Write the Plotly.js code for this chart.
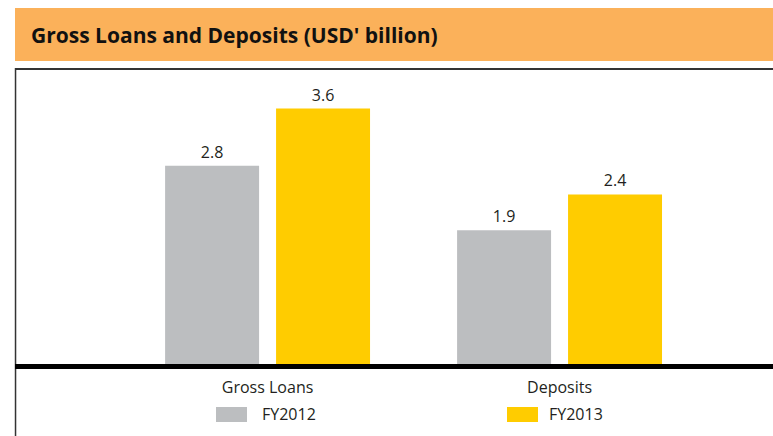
<!DOCTYPE html>
<html>
<head>
<meta charset="utf-8">
<script src="https://cdn.plot.ly/plotly-3.0.1.min.js"></script>
<style>html,body{margin:0;padding:0;background:#fff;}#chart{width:773px;height:436px;}</style>
</head>
<body>
<div id="chart"></div>
<script>
const categories = ["Gross Loans", "Deposits"];
const seriesNames = ["FY2012", "FY2013"];
const fy2012 = [2.8, 1.9];
const fy2013 = [3.6, 2.4];
const colors = ["#BCBEC0", "#FFCC00"];
const titleText = "Gross Loans and Deposits (USD' billion)";

const FONT = "Open Sans, Noto Sans, sans-serif";
const textColor = "#231F20";

const traces = [fy2012, fy2013].map((vals, i) => ({
  type: "bar",
  name: seriesNames[i],
  x: categories,
  y: vals,
  marker: {color: colors[i], line: {width: 0}},
  text: vals.map(v => v.toFixed(1)),
  textposition: "outside",
  constraintext: "none",
  cliponaxis: false,
  textfont: {family: FONT, size: 16, color: textColor},
  hoverinfo: "none"
}));

// legend swatches and labels (custom, larger swatches as in the reference)
const swatchX = [[0.2652, 0.3061], [0.6491, 0.6900]];
const labelX = [0.3232, 0.7018];
const shapes = [
  // title banner
  {type: "rect", xref: "paper", yref: "paper", x0: 0, x1: 1, y0: 1.0235, y1: 1.2013,
   fillcolor: "#FBB15A", line: {width: 0}, layer: "below"},
  // box top border
  {type: "line", xref: "paper", yref: "paper", x0: 0, x1: 1, y0: 0.9966, y1: 0.9966,
   line: {color: "#333333", width: 2}},
  // left border
  {type: "line", xref: "paper", yref: "paper", x0: 0.0007, x1: 0.0007, y0: -0.25, y1: 1,
   line: {color: "#333333", width: 1.5}},
  // baseline
  {type: "line", xref: "paper", yref: "paper", x0: 0, x1: 1, y0: -0.0017, y1: -0.0017,
   line: {color: "#000000", width: 5}}
];
const annotations = [];
seriesNames.forEach((n, i) => {
  shapes.push({type: "rect", xref: "paper", yref: "paper",
    x0: swatchX[i][0], x1: swatchX[i][1], y0: -0.1879, y1: -0.1376,
    fillcolor: colors[i], line: {width: 0}});
  annotations.push({xref: "paper", yref: "paper", x: labelX[i], y: -0.1627,
    xanchor: "left", yanchor: "middle", text: n, showarrow: false,
    font: {family: FONT, size: 16, color: textColor}});
});

const layout = {
  width: 773, height: 436,
  margin: {l: 15, r: 0, t: 68, b: 70, pad: 0},
  paper_bgcolor: "#ffffff", plot_bgcolor: "#ffffff",
  showlegend: false,
  barmode: "group",
  bargap: 0.240,
  bargroupgap: 0.153,
  title: {
    text: "<b>" + titleText + "</b>",
    xref: "container", yref: "container",
    x: 31 / 773, xanchor: "left",
    y: 1 - 36 / 436, yanchor: "middle",
    font: {family: FONT, size: 21, color: "#111111"}
  },
  xaxis: {
    type: "category",
    range: [-0.865, 1.731],
    showgrid: false, zeroline: false, showline: false,
    ticks: "", ticklabelstandoff: 10,
    tickfont: {family: FONT, size: 16, color: textColor},
    fixedrange: true
  },
  yaxis: {
    range: [0, 4.168],
    showgrid: false, zeroline: false, showline: false,
    showticklabels: false, ticks: "",
    fixedrange: true
  },
  shapes: shapes,
  annotations: annotations
};

Plotly.newPlot("chart", traces, layout, {staticPlot: true, displayModeBar: false});
</script>
</body>
</html>
